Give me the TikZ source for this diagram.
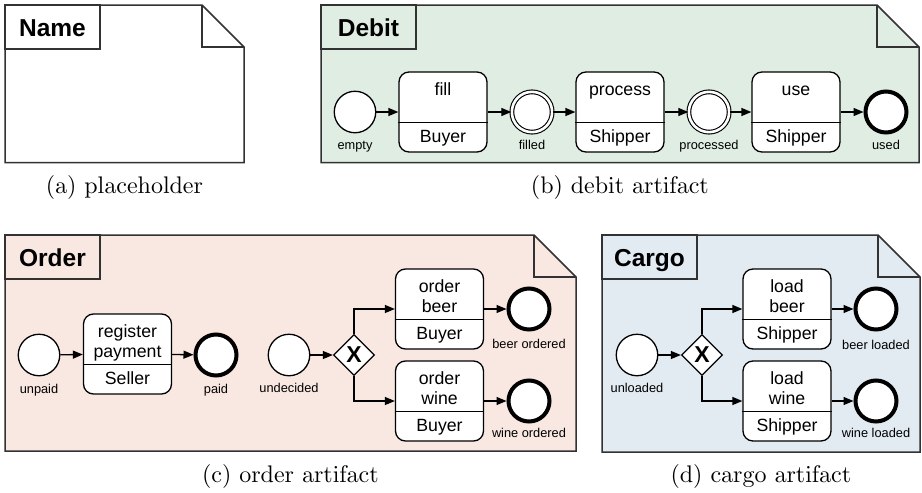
\documentclass[tikz,border=0pt]{standalone}
\usepackage{fontspec}
\newfontfamily\arialf{Liberation Sans}
\usetikzlibrary{arrows.meta,shapes.geometric}
\font\capfont=cmr10 at 24pt
\definecolor{debitbg}{RGB}{223,237,227}
\definecolor{orderbg}{RGB}{249,231,225}
\definecolor{cargobg}{RGB}{226,234,242}
\definecolor{edgec}{RGB}{50,50,50}
\tikzset{
 panel/.style={draw=edgec, line width=1.5pt, line join=miter},
 titlebox/.style={draw=edgec, line width=1.5pt},
 titletxt/.style={font=\arialf\bfseries\fontsize{24.5}{28}\selectfont, anchor=base, inner sep=0},
 taskbox/.style={draw=black, fill=white, line width=1.3pt, rounded corners=10pt, minimum width=88pt, minimum height=80pt, inner sep=0},
 divider/.style={line width=1.3pt},
 tasktxt/.style={font=\arialf\fontsize{17.7}{20}\selectfont, anchor=base, inner sep=0},
 startev/.style={circle, draw, fill=white, line width=1.3pt, minimum size=41.5pt, inner sep=0},
 midev/.style={circle, draw, fill=white, line width=1.1pt, double, double distance=2.6pt, minimum size=40.3pt, inner sep=0},
 endev/.style={circle, draw, fill=white, line width=4pt, minimum size=41pt, inner sep=0},
 lbl/.style={font=\arialf\fontsize{12.8}{15}\selectfont, anchor=base, inner sep=0},
 gate/.style={diamond, draw, fill=white, line width=1.3pt, minimum width=41pt, minimum height=41pt, inner sep=0, font=\arialf\bfseries\fontsize{23}{26}\selectfont},
 flow/.style={line width=1.3pt, -{Triangle[length=10pt,width=8pt]}},
 capt/.style={font=\capfont, anchor=base, inner sep=0},
}
\newcommand\panelshape[5]{%
 \filldraw[panel, fill=#5] (#1,#2) -- (#3-42,#2) -- (#3,#2+42) -- (#3,#4) -- (#1,#4) -- cycle;
 \draw[panel] (#3-42,#2) -- (#3-42,#2+42) -- (#3,#2+42);
 \draw[titlebox] (#1,#2) rectangle (#1+95,#2+44);
}
\newcommand\taskone[5]{%
 \node[taskbox] (#1) at (#2,#3+40) {};
 \draw[divider] ([yshift=-51pt]#1.north west) -- ([yshift=-51pt]#1.north east);
 \node[tasktxt] (#1-t) at ([yshift=-24pt]#1.north) {#4};
 \node[tasktxt] (#1-r) at ([yshift=10pt]#1.south) {#5};
}
\newcommand\tasktwo[6]{%
 \node[taskbox] (#1) at (#2,#3+40) {};
 \draw[divider] ([yshift=-51pt]#1.north west) -- ([yshift=-51pt]#1.north east);
 \node[tasktxt] (#1-t) at ([yshift=-24pt]#1.north) {#4};
 \node[tasktxt] (#1-u) at ([yshift=-44.5pt]#1.north) {#5};
 \node[tasktxt] (#1-r) at ([yshift=10pt]#1.south) {#6};
}
\begin{document}
\begin{tikzpicture}[x=1pt,y=-1pt]
\fill[white] (0,0) rectangle (922,493);
\useasboundingbox (0,0) rectangle (922,493);
% panels
\panelshape{5}{5}{244}{162.5}{white}
\node[titletxt] (ttlA) at (52.5,36) {Name};
\panelshape{321}{5}{919}{162.5}{debitbg}
\node[titletxt] (ttlB) at (368.5,36) {Debit};
\panelshape{5}{235}{576}{451}{orderbg}
\node[titletxt] (ttlC) at (52.5,266) {Order};
\panelshape{602}{235}{920}{452}{cargobg}
\node[titletxt] (ttlD) at (649.5,266) {Cargo};
% debit
\node[startev] (empty) at (355,112) {};
\node[lbl] (lempty) at (355,149) {empty};
\taskone{fill}{443}{72}{fill}{Buyer}
\node[midev] (filled) at (532,112) {};
\node[lbl] (lfilled) at (532,149) {filled};
\taskone{proc}{620}{72}{process}{Shipper}
\node[midev] (processed) at (709,112) {};
\node[lbl] (lprocessed) at (709,149) {processed};
\taskone{use}{796}{72}{use}{Shipper}
\node[endev] (used) at (886,112) {};
\node[lbl] (lused) at (886,149) {used};
\draw[flow] (empty) -- (fill);
\draw[flow] (fill) -- (filled);
\draw[flow] (filled) -- (proc);
\draw[flow] (proc) -- (processed);
\draw[flow] (processed) -- (use);
\draw[flow] (use) -- (used);
% order
\node[startev] (unpaid) at (39,355) {};
\node[lbl] (lunpaid) at (39,393) {unpaid};
\tasktwo{reg}{127.5}{314}{register}{payment}{Seller}
\node[endev] (paid) at (216,355) {};
\node[lbl] (lpaid) at (216,393) {paid};
\draw[flow] (unpaid) -- (reg);
\draw[flow] (reg) -- (paid);
\node[startev] (undec) at (289,355) {};
\node[lbl] (lundec) at (289,392) {undecided};
\node[gate] (gwO) at (354,355) {X};
\tasktwo{ob}{439.5}{269}{order}{beer}{Buyer}
\tasktwo{ow}{439.5}{361}{order}{wine}{Buyer}
\node[endev] (beerord) at (529,309) {};
\node[lbl] (lbeerord) at (529,348) {beer ordered};
\node[endev] (wineord) at (529,401) {};
\node[lbl] (lwineord) at (529,437) {wine ordered};
\draw[flow] (undec) -- (gwO);
\draw[flow] (gwO.north) |- (ob.west);
\draw[flow] (gwO.south) |- (ow.west);
\draw[flow] (ob) -- (beerord);
\draw[flow] (ow) -- (wineord);
% cargo
\node[startev] (unl) at (637,355) {};
\node[lbl] (lunl) at (637,392) {unloaded};
\node[gate] (gwC) at (702,355) {X};
\tasktwo{lb}{787}{269}{load}{beer}{Shipper}
\tasktwo{lw}{787}{361}{load}{wine}{Shipper}
\node[endev] (beerld) at (876,309) {};
\node[lbl] (lbeerld) at (876,349) {beer loaded};
\node[endev] (wineld) at (876,401) {};
\node[lbl] (lwineld) at (876,437) {wine loaded};
\draw[flow] (unl) -- (gwC);
\draw[flow] (gwC.north) |- (lb.west);
\draw[flow] (gwC.south) |- (lw.west);
\draw[flow] (lb) -- (beerld);
\draw[flow] (lw) -- (wineld);
% captions
\node[capt] (capA) at (124.5,193) {(a) placeholder};
\node[capt] (capB) at (620,193) {(b) debit artifact};
\node[capt] (capC) at (290.5,482) {(c) order artifact};
\node[capt] (capD) at (761,482) {(d) cargo artifact};
\end{tikzpicture}
\end{document}
